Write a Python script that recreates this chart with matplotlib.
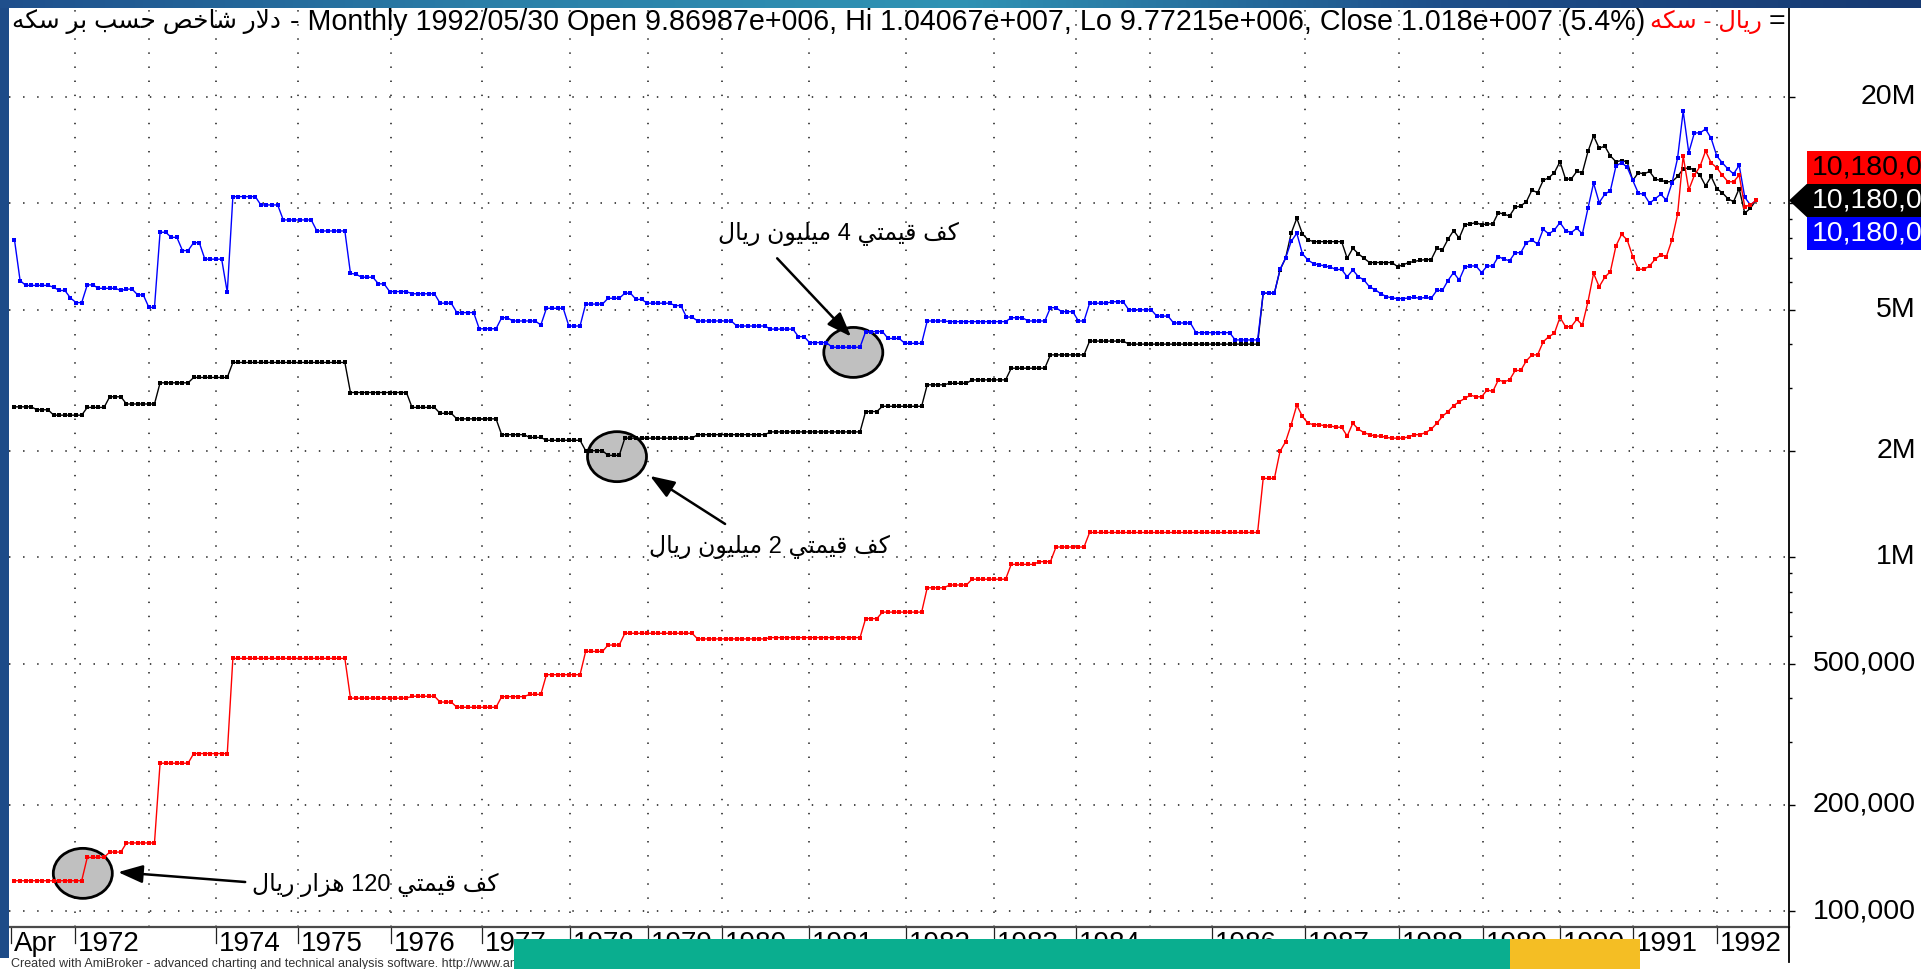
import numpy as np
import matplotlib
matplotlib.use("Agg")
import matplotlib.pyplot as plt
import matplotlib.transforms as mtransforms
from matplotlib.patches import Ellipse, Rectangle, Polygon
from matplotlib.lines import Line2D
from matplotlib.colors import LinearSegmentedColormap
from matplotlib.ticker import FixedLocator, NullFormatter, NullLocator

W, H, DPI = 1921, 969, 100
plt.rcParams['font.family'] = ['Liberation Sans', 'DejaVu Sans']

# ---------------- data (values in thousands of rials, one value per bar) ----------------
# flat stretches are given as (level, number of bars)
red_levels = [122, 142, 147, 156, 262, 279, 518, 400, 405, 390, 377, 404, 410, 466, 542, 565,
              610, 588, 593, 671, 700, 820, 835, 867, 955, 972, 1069, 1175, 1670]
red_counts = [13, 4, 3, 6, 6, 7, 21, 11, 5, 3, 8, 5, 3, 7, 4, 3,
              13, 13, 17, 3, 8, 4, 4, 7, 5, 3, 6, 31, 3]
red_tail = [1990, 2120, 2370, 2690,
            2500, 2390, 2370, 2370, 2350, 2350, 2330, 2330, 2200, 2390, 2300, 2250, 2220, 2200,
            2200, 2180, 2170, 2170, 2170, 2190, 2220, 2220, 2250, 2300, 2390, 2500, 2580, 2680, 2750,
            2810, 2870, 2840, 2840, 2970, 2940, 3170, 3130, 3170, 3370, 3370, 3590, 3730, 3730,
            4060, 4200, 4290, 4760, 4480, 4480, 4700, 4530, 5270, 6340, 5810, 6180, 6410, 7580,
            8170, 7880, 7070, 6510, 6510, 6650, 6950, 7150, 7070, 7880, 9310, 13600, 10900, 12000,
            12700, 14050, 13000, 12600, 12000, 11500, 11500, 12000, 9780, 9890, 10180]

black_levels = [2660, 2610, 2520, 2650, 2840, 2710, 3110, 3220, 3550, 2920, 2650, 2550, 2460,
                2220, 2180, 2140, 2000, 1940, 2170, 2220, 2260, 2580, 2670, 3070, 3100, 3170,
                3420, 3730, 4080, 4000, 5570]
black_counts = [4, 3, 6, 4, 3, 6, 6, 7, 21, 11, 5, 3, 8,
                5, 3, 7, 4, 3, 13, 13, 17, 3, 8, 4, 4, 7,
                7, 7, 7, 24, 3]
black_tail = [6480, 7000, 8230, 9070, 8200, 7880, 7790, 7790, 7790, 7790, 7790, 7790, 6990, 7460,
              7200, 6990, 6800, 6800, 6800, 6800, 6800, 6620, 6700, 6800, 6850,
              6900, 6930, 6930, 7460, 7380, 7910, 8370, 7970, 8690, 8740,
              8820, 8690, 8740, 8740, 9410, 9310, 9210, 9740, 9830, 10100,
              10900, 10700, 11600, 11800, 12200, 13100, 11700, 11700, 12300, 12200,
              14000, 15500, 14300, 14500, 13600, 13100, 13200, 13100, 11600, 12200,
              12100, 12300, 11700, 11600, 11500, 11500, 11900, 12500, 12600, 12400,
              12000, 11200, 11900, 11000, 10700, 10300, 10100, 11000, 9370, 9680, 10180]

blue_levels = [7880, 6050, 5860, 5790, 5670, 5400, 5240, 5880, 5750, 5670, 5720, 5510, 5080,
               8280, 8010, 7350, 7740, 6950, 5600, 10440, 9890, 8970, 8350, 6340, 6300, 6180,
               5920, 5630, 5550, 5220, 4910, 4420, 4750, 4650, 4530, 5050, 4500, 5190, 5390,
               5570, 5350, 5220, 5140, 4770,
               4650, 4500, 4410, 4200, 4040, 3920, 4340, 4150, 4020, 4650, 4630, 4750, 4650,
               5070, 4940, 4650, 5220, 5270, 5000, 4800, 4590, 4310, 4110, 5570]
blue_counts = [1, 1, 5, 1, 2, 1, 2, 2, 4, 1, 2, 2, 2,
               2, 2, 2, 2, 4, 1, 5, 4, 6, 6, 1, 1, 3,
               2, 4, 5, 3, 4, 4, 2, 5, 1, 4, 3, 4, 3,
               2, 2, 5, 2, 2,
               7, 6, 5, 2, 4, 6, 4, 3, 4, 4, 11, 3, 4,
               2, 3, 2, 4, 3, 5, 3, 4, 7, 5, 3]
blue_tail = [6500, 7000, 7800, 8230, 7200, 6910, 6750, 6700, 6650, 6600, 6500, 6500, 6200,
             6480, 6200, 6070, 5800, 5700, 5550, 5450, 5400, 5380, 5380, 5400, 5420,
             5390, 5420, 5390, 5670, 5670, 6050, 6370, 6070, 6600, 6650,
             6650, 6370, 6650, 6650, 7070, 6950, 6880, 7250, 7250, 7740,
             7880, 7660, 8440, 8190, 8400, 8820, 8370, 8260, 8500, 8190,
             9680, 11400, 10040, 10600, 10850, 12740, 13020, 12640, 11600, 10670,
             10600, 10000, 10300, 10600, 10200, 11400, 13400, 18200, 13900, 15800,
             15800, 16200, 15250, 13600, 13000, 12500, 12100, 12800, 10400, 9890, 10180]

# year boundaries, in bar units
year_labels = ['Apr', '1972', '1974', '1975', '1976', '1977', '1978', '1979', '1980', '1981',
               '1982', '1983', '1984', '1986', '1987', '1988', '1989', '1990', '1991', '1992']
year_label_pos = [-0.6, 10.8, 35.9, 50.6, 67.2, 83.5, 99.2, 113.1, 126.3, 141.8,
                  159.2, 174.9, 189.6, 213.8, 230.4, 247.2, 262.2, 276.0, 289.0, 304.0]
year_grid_pos = [10.8, 24.0, 35.9, 50.6, 67.2, 83.5, 99.2, 113.1, 126.3, 141.8, 159.2,
                 174.9, 189.6, 202.8, 213.8, 230.4, 247.2, 262.2, 276.0, 289.0, 304.0]

y_major = [100e3, 200e3, 500e3, 1e6, 2e6, 5e6, 10e6, 20e6]
y_labels = ['100,000', '200,000', '500,000', '1M', '2M', '5M', '', '20M']
y_minor = [300e3, 400e3, 600e3, 700e3, 800e3, 900e3, 3e6, 4e6, 6e6, 7e6, 8e6, 9e6]

title_name = "دلار شاخص حسب بر سکه"
title_info = " - Monthly 1992/05/30 Open 9.86987e+006, Hi 1.04067e+007, Lo 9.77215e+006, Close 1.018e+007 (5.4%)"
title_red = "ریال - سکه"
last_label = "10,180,0"

notes = [  # text, circle centre (bar, value), arrow tail, arrow head, text anchor, text align
    ("کف قیمتي 120 هزار ریال", (12.2, 128e3), (41.2, 121e3), (18.5, 129e3), (42.4, 118.5e3), 'left'),
    ("کف قیمتي 2 میلیون ریال", (107.6, 1.924e6), (126.9, 1.242e6), (113.5, 1.697e6), (134.9, 1.07e6), 'center'),
    ("کف قیمتي 4 میلیون ریال", (149.8, 3.79e6), (136.2, 6.99e6), (149.4, 4.2e6), (147.1, 8.19e6), 'center'),
]

# ---------------- Arabic shaping (matplotlib has no complex text layout) ----------------
FORMS = {
    'ا': ('\ufe8d', '\ufe8e', None, None), 'ب': ('\ufe8f', '\ufe90', '\ufe91', '\ufe92'),
    'ت': ('\ufe95', '\ufe96', '\ufe97', '\ufe98'), 'ح': ('\ufea1', '\ufea2', '\ufea3', '\ufea4'),
    'خ': ('\ufea5', '\ufea6', '\ufea7', '\ufea8'), 'د': ('\ufea9', '\ufeaa', None, None),
    'ر': ('\ufead', '\ufeae', None, None), 'ز': ('\ufeaf', '\ufeb0', None, None),
    'س': ('\ufeb1', '\ufeb2', '\ufeb3', '\ufeb4'), 'ش': ('\ufeb5', '\ufeb6', '\ufeb7', '\ufeb8'),
    'ص': ('\ufeb9', '\ufeba', '\ufebb', '\ufebc'), 'ف': ('\ufed1', '\ufed2', '\ufed3', '\ufed4'),
    'ق': ('\ufed5', '\ufed6', '\ufed7', '\ufed8'), 'ل': ('\ufedd', '\ufede', '\ufedf', '\ufee0'),
    'م': ('\ufee1', '\ufee2', '\ufee3', '\ufee4'), 'ن': ('\ufee5', '\ufee6', '\ufee7', '\ufee8'),
    'ه': ('\ufee9', '\ufeea', '\ufeeb', '\ufeec'), 'و': ('\ufeed', '\ufeee', None, None),
    'ي': ('\ufef1', '\ufef2', '\ufef3', '\ufef4'), 'ک': ('\ufb8e', '\ufb8f', '\ufb90', '\ufb91'),
    'ی': ('\ufbfc', '\ufbfd', '\ufbfe', '\ufbff'),
}


def shape(text):
    ch = list(text)
    out = []
    i = 0
    while i < len(ch):
        c = ch[i]
        if c not in FORMS:
            out.append(c)
            i += 1
            continue
        prev_j = i > 0 and ch[i - 1] in FORMS and FORMS[ch[i - 1]][2] is not None
        if c == 'ل' and i + 1 < len(ch) and ch[i + 1] == 'ا':
            out.append('\ufefc' if prev_j else '\ufefb')
            i += 2
            continue
        nxt = i + 1 < len(ch) and ch[i + 1] in FORMS
        left = FORMS[c][2] is not None
        if prev_j and left and nxt:
            f = 3
        elif prev_j:
            f = 1
        elif left and nxt:
            f = 2
        else:
            f = 0
        out.append(FORMS[c][f])
        i += 1
    return out


def rtl(text):
    s = shape(text)[::-1]
    out, run = [], []
    for c in s:
        if c.isascii() and (c.isalnum() or c in '.%'):
            run.append(c)
        else:
            if run:
                out.extend(run[::-1])
                run = []
            out.append(c)
    if run:
        out.extend(run[::-1])
    return ''.join(out)


# ---------------- series ----------------
def series(levels, counts, tail):
    return np.concatenate([np.repeat(np.asarray(levels, float), counts),
                           np.asarray(tail, float)]) * 1e3


red = series(red_levels, red_counts, red_tail)
black = series(black_levels, black_counts, black_tail)
blue = series(blue_levels, blue_counts, blue_tail)
x = np.arange(len(red))

fig = plt.figure(figsize=(W / DPI, H / DPI), dpi=DPI, facecolor='white')


def fx(px):
    return px / W


def fy(py):
    return 1 - py / H


PL, PR, PT, PB = 9, 1789, 8, 927
ax = fig.add_axes([fx(PL), fy(PB), (PR - PL) / W, (PB - PT) / H])
ax.set_facecolor('white')
ax.set_yscale('log')
ax.set_xlim(-0.98, 316.9)
ax.set_ylim(90.3e3, 35.6e6)

for s in ('left', 'top'):
    ax.spines[s].set_visible(False)
ax.spines['right'].set_color('black')
ax.spines['right'].set_linewidth(1.3)
ax.spines['bottom'].set_color('#4a4a4a')
ax.spines['bottom'].set_linewidth(1.6)

ax.xaxis.set_major_locator(NullLocator())
ax.xaxis.set_minor_locator(NullLocator())
ax.yaxis.tick_right()
ax.yaxis.set_major_locator(FixedLocator(y_major))
ax.yaxis.set_minor_locator(FixedLocator(y_minor))
ax.yaxis.set_major_formatter(NullFormatter())
ax.yaxis.set_minor_formatter(NullFormatter())
ax.tick_params(axis='y', which='major', direction='out', length=4.5, width=1.0, color='black')
ax.tick_params(axis='y', which='minor', direction='out', length=1.8, width=1.0, color='black')

grid_kw = dict(color='#3a3a3a', lw=1.3, ls=(0, (0.8, 7.0)), zorder=1)
for v in y_major:
    ax.axhline(v, **grid_kw)
for p in year_grid_pos:
    ax.axvline(p, **grid_kw)

for vals, col in [(black, '#000000'), (blue, '#0000ff'), (red, '#ff0000')]:
    ax.plot(x, vals, color=col, lw=1.0, marker='s', ms=2.9, mew=0, zorder=3)


def d2p(xv, yv):
    X, Y = ax.transData.transform((xv, yv))
    return X, H - Y


# annotations
for text, centre, tail, head, tpos, align in notes:
    cx, cy = d2p(*centre)
    ax.add_patch(Ellipse((fx(cx), fy(cy)), 59 / W, 50 / H, transform=fig.transFigure,
                         fc='#c0c0c0', ec='black', lw=2.0, zorder=2, clip_on=False))
    ax.annotate('', xy=head, xytext=tail,
                arrowprops=dict(arrowstyle='-|>,head_length=1.5,head_width=0.55',
                                color='black', lw=1.8, shrinkA=0, shrinkB=0,
                                mutation_scale=10), zorder=4)
    ax.text(tpos[0], tpos[1], rtl(text), fontsize=17, ha=align, va='center',
            color='black', zorder=5)

# y labels
ytr = ax.get_yaxis_transform()
lab_x = (1916 - PL) / (PR - PL)
for v, lab in zip(y_major, y_labels):
    if lab:
        ax.text(lab_x, v, lab, transform=ytr, ha='right', va='center', fontsize=20.5,
                color='black', clip_on=False)

# x labels
xt = ax.get_xaxis_transform()
lab_tr = mtransforms.offset_copy(xt, fig=fig, x=3, y=-4, units='dots')
for p, lab in zip(year_label_pos, year_labels):
    ax.plot([p, p], [0, -16 / (PB - PT)], transform=xt, color='#222222', lw=0.9, clip_on=False)
    ax.text(p, 0, lab, transform=lab_tr, ha='left', va='top', fontsize=20, color='black',
            clip_on=False)

fig.add_artist(Line2D([fx(PR), fx(PR)], [fy(PB), fy(962)], color='black', lw=1.3))

# last-value boxes
_, yb = d2p(x[-1], black[-1])
bh = 33
fig.add_artist(Rectangle((fx(1806.7), fy(yb - bh / 2)), (W - 1806.7) / W, bh / H,
                         transform=fig.transFigure, fc='#ff0000', ec='none', zorder=6))
fig.add_artist(Polygon([(fx(PR), fy(yb)), (fx(1806.7), fy(yb - bh / 2)), (fx(W), fy(yb - bh / 2)),
                        (fx(W), fy(yb + bh / 2)), (fx(1806.7), fy(yb + bh / 2))],
                       closed=True, transform=fig.transFigure, fc='black', ec='none', zorder=6))
fig.add_artist(Rectangle((fx(1806.7), fy(yb + bh / 2 + bh)), (W - 1806.7) / W, bh / H,
                         transform=fig.transFigure, fc='#0000ff', ec='none', zorder=6))
for dy, tc in [(-bh, 'black'), (0, 'white'), (bh, 'white')]:
    fig.text(fx(1811.5), fy(yb + dy), last_label, color=tc, fontsize=20.5, ha='left',
             va='center', zorder=7)

# title
renderer = fig.canvas.get_renderer()
TY = fy(22)
t0 = fig.text(fx(12), TY, rtl(title_name), fontsize=17.8, color='black',
              ha='left', va='center', zorder=7)
bb = t0.get_window_extent(renderer)
fig.text((bb.x1 + 1) / W, TY, title_info, fontsize=20.6, color='black',
         ha='left', va='center', zorder=7)
fig.text(fx(1762), TY, rtl(title_red), fontsize=17.5, color='#ff0000', ha='right',
         va='center', zorder=7)
fig.text(fx(1785), TY, '=', fontsize=20.5, color='black', ha='right', va='center',
         zorder=7)

# frame / slide decorations
grad = np.linspace(0, 1, 256)
top_ax = fig.add_axes([0, fy(8), 1, 8 / H], zorder=8)
top_ax.axis('off')
cm_top = LinearSegmentedColormap.from_list('t', ['#1f4f8c', '#2a7fa8', '#2f93b4', '#1e4f8a', '#173a72'])
top_ax.imshow(grad[None, :], aspect='auto', cmap=cm_top, extent=[0, 1, 0, 1])
fig.add_artist(Rectangle((0, fy(958)), fx(8.5), 1 - fy(958) + 0.001, transform=fig.transFigure,
                         fc='#1d4b88', ec='none', zorder=8))

fig.text(fx(11), fy(964.5), 'Created with AmiBroker - advanced charting and technical analysis software. http://www.amibroker.com',
         fontsize=9, color='#333333', ha='left', va='center', zorder=7)
fig.add_artist(Rectangle((fx(514), 0), (1510 - 514) / W, 30 / H, transform=fig.transFigure,
                         fc='#0aae8f', ec='none', zorder=9))
fig.add_artist(Rectangle((fx(1510), 0), (1640 - 1510) / W, 30 / H, transform=fig.transFigure,
                         fc='#f4be24', ec='none', zorder=9))

fig.savefig('out.png', dpi=DPI, facecolor='white')
